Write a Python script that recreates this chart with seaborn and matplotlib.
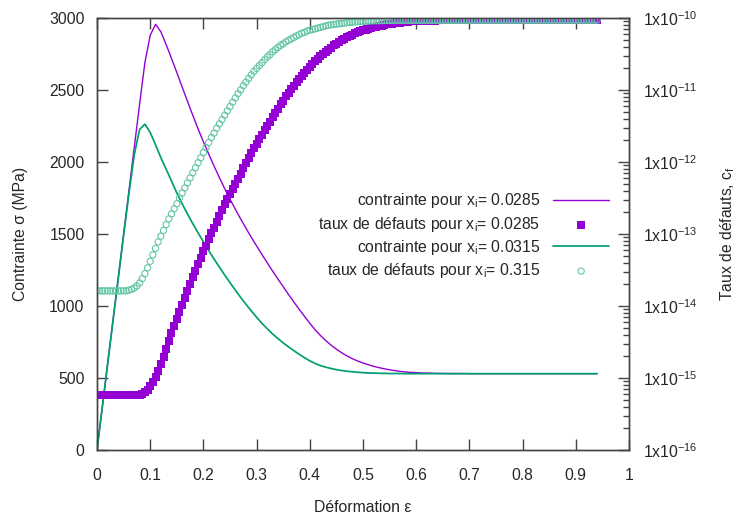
import numpy as np
import matplotlib
matplotlib.use('Agg')
import matplotlib.pyplot as plt
from matplotlib.ticker import FuncFormatter, LogLocator, NullFormatter
import seaborn as sns

# contrainte (MPa), lue tous les 0.01 de deformation (0 -> 0.94)
sigma_0285 = [
    0, 300, 600, 900, 1200, 1500, 1800, 2100, 2400, 2690,
    2880, 2956, 2905, 2815, 2720, 2622, 2522, 2422, 2325, 2230,
    2140, 2055, 1972, 1892, 1815, 1742, 1672, 1605, 1540, 1477,
    1417, 1358, 1300, 1243, 1188, 1134, 1080, 1028, 977, 928,
    880, 835, 795, 760, 728, 700, 675, 653, 634, 618,
    604, 592, 581, 572, 564, 557, 551, 546, 542, 539,
    537, 535, 534, 533, 532, 532, 531, 531, 531, 531,
    530, 530, 530, 530, 530, 530, 530, 530, 530, 530,
    530, 530, 530, 530, 530, 530, 530, 530, 530, 530,
    530, 530, 530, 530, 530]
sigma_0315 = [
    0, 298, 596, 894, 1190, 1490, 1780, 2050, 2225, 2263,
    2205, 2120, 2030, 1950, 1868, 1785, 1710, 1640, 1572, 1508,
    1445, 1385, 1327, 1270, 1215, 1162, 1110, 1060, 1012, 966,
    922, 880, 842, 806, 774, 744, 716, 690, 665, 641,
    619, 601, 586, 575, 566, 558, 552, 547, 543, 540,
    537, 535, 534, 533, 532, 531, 531, 531, 530, 530,
    530, 530, 530, 530, 530, 530, 530, 530, 530, 530,
    530, 530, 530, 530, 530, 530, 530, 530, 530, 530,
    530, 530, 530, 530, 530, 530, 530, 530, 530, 530,
    530, 530, 530, 530, 530]

# log10 du taux de defauts, lu tous les 0.005 de deformation (0 -> 0.94)
logcf_0285 = [
    -15.24, -15.24, -15.24, -15.24, -15.24, -15.24, -15.24, -15.24, -15.24, -15.24,
    -15.24, -15.24, -15.24, -15.24, -15.24, -15.235, -15.23, -15.22, -15.20, -15.16,
    -15.11, -15.05, -14.98, -14.90, -14.81, -14.71, -14.60, -14.49, -14.38, -14.28,
    -14.18, -14.08, -13.99, -13.89, -13.79, -13.70, -13.60, -13.51, -13.42, -13.33,
    -13.24, -13.16, -13.07, -12.99, -12.91, -12.83, -12.75, -12.67, -12.59, -12.51,
    -12.44, -12.37, -12.30, -12.23, -12.16, -12.09, -12.02, -11.95, -11.88, -11.81,
    -11.75, -11.68, -11.62, -11.56, -11.50, -11.44, -11.38, -11.32, -11.26, -11.20,
    -11.15, -11.09, -11.04, -10.99, -10.94, -10.89, -10.85, -10.80, -10.76, -10.72,
    -10.68, -10.64, -10.60, -10.57, -10.53, -10.50, -10.47, -10.44, -10.41, -10.38,
    -10.36, -10.33, -10.31, -10.29, -10.27, -10.25, -10.23, -10.215, -10.20, -10.185,
    -10.17, -10.16, -10.15, -10.14, -10.13, -10.12, -10.11, -10.105, -10.10, -10.09,
    -10.085, -10.08, -10.075, -10.07, -10.065, -10.06, -10.055, -10.05, -10.048, -10.046,
    -10.044, -10.042, -10.04, -10.039, -10.038, -10.037, -10.036, -10.035, -10.034, -10.033,
    -10.032, -10.032, -10.032, -10.032, -10.032, -10.032, -10.032, -10.032, -10.032, -10.032,
    -10.031, -10.031, -10.031, -10.031, -10.031, -10.031, -10.031, -10.031, -10.031, -10.031,
    -10.03, -10.03, -10.03, -10.03, -10.03, -10.03, -10.03, -10.03, -10.03, -10.03,
    -10.03, -10.03, -10.03, -10.03, -10.03, -10.03, -10.03, -10.03, -10.03, -10.03,
    -10.03, -10.03, -10.03, -10.03, -10.03, -10.03, -10.03, -10.03, -10.03, -10.03,
    -10.03, -10.03, -10.03, -10.03, -10.03, -10.03, -10.03, -10.03, -10.03]
logcf_0315 = [
    -13.79, -13.79, -13.79, -13.79, -13.79, -13.79, -13.79, -13.79, -13.79, -13.79,
    -13.79, -13.79, -13.78, -13.77, -13.75, -13.72, -13.68, -13.62, -13.55, -13.47,
    -13.38, -13.29, -13.20, -13.11, -13.03, -12.95, -12.87, -12.79, -12.72, -12.65,
    -12.58, -12.50, -12.43, -12.36, -12.29, -12.22, -12.15, -12.08, -12.01, -11.94,
    -11.87, -11.80, -11.73, -11.66, -11.60, -11.53, -11.47, -11.41, -11.35, -11.29,
    -11.23, -11.17, -11.11, -11.05, -11.00, -10.94, -10.89, -10.84, -10.79, -10.74,
    -10.70, -10.66, -10.62, -10.58, -10.54, -10.51, -10.47, -10.44, -10.41, -10.38,
    -10.36, -10.33, -10.31, -10.29, -10.27, -10.25, -10.23, -10.21, -10.20, -10.18,
    -10.17, -10.16, -10.15, -10.14, -10.13, -10.12, -10.11, -10.10, -10.095, -10.09,
    -10.085, -10.08, -10.075, -10.07, -10.065, -10.06, -10.057, -10.054, -10.051, -10.048,
    -10.046, -10.044, -10.042, -10.040, -10.039, -10.038, -10.037, -10.036, -10.035, -10.034,
    -10.033, -10.032, -10.032, -10.032, -10.032, -10.032, -10.032, -10.032, -10.032, -10.032,
    -10.031, -10.031, -10.031, -10.031, -10.031, -10.031, -10.031, -10.031, -10.031, -10.031,
    -10.031, -10.031, -10.031, -10.031, -10.031, -10.031, -10.031, -10.031, -10.031, -10.031,
    -10.03, -10.03, -10.03, -10.03, -10.03, -10.03, -10.03, -10.03, -10.03, -10.03,
    -10.03, -10.03, -10.03, -10.03, -10.03, -10.03, -10.03, -10.03, -10.03, -10.03,
    -10.03, -10.03, -10.03, -10.03, -10.03, -10.03, -10.03, -10.03, -10.03, -10.03,
    -10.03, -10.03, -10.03, -10.03, -10.03, -10.03, -10.03, -10.03, -10.03, -10.03,
    -10.03, -10.03, -10.03, -10.03, -10.03, -10.03, -10.03, -10.03, -10.03]

labels = ['contrainte pour x$_{i}$= 0.0285',
          'taux de défauts pour x$_{i}$= 0.0285',
          'contrainte pour x$_{i}$= 0.0315',
          'taux de défauts pour x$_{i}$= 0.315']

eps_line = np.linspace(0, 0.94, len(sigma_0285))
eps_pts = np.linspace(0, 0.94, len(logcf_0285))

sns.set_style('ticks')
plt.rcParams['font.family'] = ['Liberation Sans', 'DejaVu Sans']
plt.rcParams['mathtext.fontset'] = 'custom'
plt.rcParams['mathtext.rm'] = 'Liberation Sans'
plt.rcParams['mathtext.it'] = 'Liberation Sans:italic'
plt.rcParams['mathtext.default'] = 'regular'
plt.rcParams['font.size'] = 11.3

violet = '#9400d3'
vert = '#009e73'
vert_clair = '#62c6a6'
gris = '#444444'
fs = 11.3

fig, ax = plt.subplots(figsize=(7.37, 5.17), dpi=100)
fig.subplots_adjust(left=97/737, right=629/737, top=1-18/517, bottom=1-450/517)
ax2 = ax.twinx()

sns.lineplot(x=eps_line, y=sigma_0285, ax=ax, color=violet, lw=1.0, label=labels[0], legend=False)
sns.lineplot(x=eps_line, y=sigma_0315, ax=ax, color=vert, lw=1.25, label=labels[2], legend=False)

sns.scatterplot(x=eps_pts, y=10.0**np.array(logcf_0285), ax=ax2, marker='s', s=26,
                color=violet, edgecolor=violet, linewidth=0, label=labels[1], legend=False)
sns.scatterplot(x=eps_pts, y=10.0**np.array(logcf_0315), ax=ax2, marker='o', s=20,
                color=vert_clair, facecolor='none', edgecolor=vert_clair, linewidth=0.8,
                label=labels[3], legend=False)

# axes
ax.set_xlim(0, 1)
ax.set_ylim(0, 3000)
ax.set_xticks(np.arange(0, 1.01, 0.1))
ax.xaxis.set_major_formatter(FuncFormatter(lambda v, p: f'{v:g}'))
ax.set_yticks(range(0, 3001, 500))
ax2.set_yscale('log')
ax2.set_ylim(1e-16, 1e-10)
ax2.yaxis.set_major_locator(LogLocator(base=10, numticks=10))
ax2.yaxis.set_minor_locator(LogLocator(base=10, subs=range(2, 10), numticks=10))
ax2.yaxis.set_minor_formatter(NullFormatter())
ax2.yaxis.set_major_formatter(FuncFormatter(lambda v, p: '1x10$^{%d}$' % round(np.log10(v))))

ax.tick_params(axis='x', which='both', direction='in', top=True, length=8, width=1,
               color=gris, pad=13, labelsize=fs)
ax.tick_params(axis='y', direction='in', length=8, width=1, color=gris, pad=9, labelsize=fs)
ax2.tick_params(axis='y', which='major', direction='in', length=8, width=1, color=gris,
                pad=10, labelsize=fs)
ax2.tick_params(axis='y', which='minor', direction='in', length=4, width=1, color=gris)

for a in (ax, ax2):
    for sp in a.spines.values():
        sp.set_visible(True)
        sp.set_color(gris)
        sp.set_linewidth(1)

ax.set_xlabel('Déformation ε', labelpad=12, fontsize=fs)
ax.set_ylabel('Contrainte σ (MPa)', labelpad=15, fontsize=fs)
ax2.set_ylabel('Taux de défauts, c$_{f}$', labelpad=15, fontsize=fs)

# legende (texte a gauche, symbole a droite)
h1, _ = ax.get_legend_handles_labels()
h2, _ = ax2.get_legend_handles_labels()
ax2.legend([h1[0], h2[0], h1[1], h2[1]], labels, loc='upper right',
           bbox_to_anchor=(0.9624, 0.5984), frameon=False, markerfirst=False,
           handlelength=3.55, handletextpad=0.83, borderpad=0, borderaxespad=0,
           labelspacing=0.27, fontsize=fs, scatterpoints=1)

fig.savefig('out.png', dpi=100)
